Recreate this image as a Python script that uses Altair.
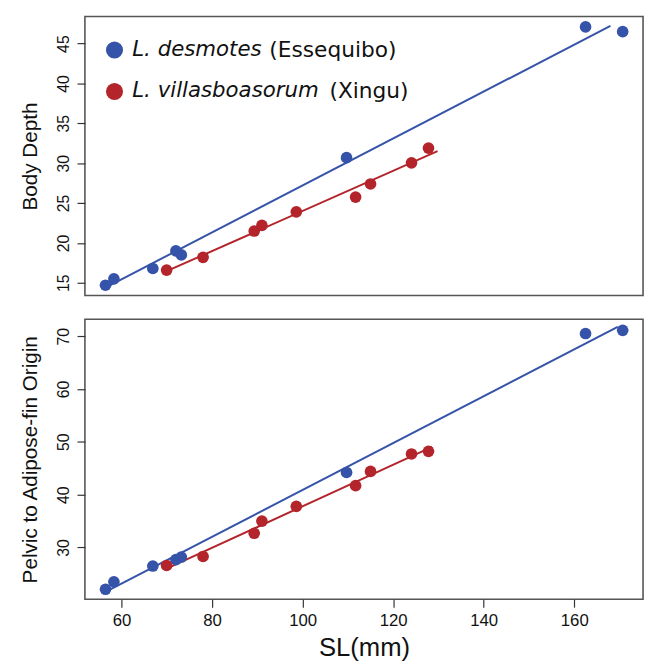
import altair as alt
import pandas as pd

# ---- data ----
species = ["L. desmotes", "L. villasboasorum"]
species_place = ["(Essequibo)", "(Xingu)"]
colors = ["#3553A8", "#B3252B"]

blue_sl = [56.45, 58.3, 66.9, 72.0, 73.2, 109.7, 162.5, 170.7]
blue_depth = [14.7, 15.5, 16.8, 19.0, 18.5, 30.7, 47.1, 46.5]
blue_pelvic = [22.1, 23.5, 26.5, 27.7, 28.2, 44.2, 70.5, 71.1]

red_sl = [69.95, 78.0, 89.3, 91.0, 98.6, 111.7, 115.0, 124.05, 127.8]
red_depth = [16.6, 18.2, 21.5, 22.2, 23.9, 25.75, 27.4, 30.05, 31.9]
red_pelvic = [26.6, 28.3, 32.7, 35.0, 37.8, 41.7, 44.4, 47.7, 48.2]

x_ticks = [60, 80, 100, 120, 140, 160]
depth_ticks = [15, 20, 25, 30, 35, 40, 45]
pelvic_ticks = [30, 40, 50, 60, 70]

# regression line extents (as drawn in the reference)
blue_extent_top = [56.45, 168.0]
red_extent_top = [69.95, 129.8]
blue_extent_bottom = [56.45, 169.6]
red_extent_bottom = [69.95, 128.6]

df = pd.concat([
    pd.DataFrame({"SL": blue_sl, "depth": blue_depth, "pelvic": blue_pelvic,
                  "species": species[0]}),
    pd.DataFrame({"SL": red_sl, "depth": red_depth, "pelvic": red_pelvic,
                  "species": species[1]}),
], ignore_index=True)

FONT = "Liberation Sans"
LEG_FONT = "DejaVu Sans"

x_scale = alt.Scale(domain=[51.9, 175.2], nice=False, zero=False)
top_scale = alt.Scale(domain=[13.4, 48.4], nice=False, zero=False)
bot_scale = alt.Scale(domain=[20.2, 73.2], nice=False, zero=False)

color_scale = alt.Scale(domain=species, range=colors)


def y_axis(values, title):
    return alt.Axis(values=values, title=title, grid=False, domain=False,
                    tickSize=8, tickColor="#333", tickWidth=1.2,
                    labelAngle=270, labelAlign="center", labelBaseline="bottom",
                    labelFontSize=16, labelFont=FONT, labelColor="#111",
                    labelPadding=6,
                    titleFont=FONT, titleFontSize=21, titleFontWeight="normal",
                    titleColor="#111", titlePadding=15)


x_axis_bottom = alt.Axis(values=x_ticks, title="SL(mm)", grid=False, domain=False,
                         tickSize=8, tickColor="#333", tickWidth=1.2,
                         labelFontSize=17, labelFont=FONT, labelColor="#111",
                         labelPadding=6, labelAngle=0,
                         titleFont=FONT, titleFontSize=26, titleFontWeight="normal",
                         titleColor="#111", titlePadding=6)


def panel(field, yscale, yaxis, xaxis, ext_blue, ext_red, height, legend=False):
    xenc = alt.X("SL:Q", scale=x_scale, axis=xaxis)
    yenc = alt.Y(f"{field}:Q", scale=yscale, axis=yaxis)
    layers = []
    for sp, col, ext in [(species[0], colors[0], ext_blue), (species[1], colors[1], ext_red)]:
        layers.append(
            alt.Chart(df)
            .transform_filter(alt.datum.species == sp)
            .transform_regression("SL", field, extent=ext)
            .mark_line(color=col, strokeWidth=2)
            .encode(x=xenc, y=yenc)
        )
    layers.append(
        alt.Chart(df).mark_circle(size=140, opacity=1).encode(
            x=xenc, y=yenc,
            color=alt.Color("species:N", scale=color_scale, legend=None))
    )
    if legend:
        rows = [(0, 34, 187), (1, 76, 248)]
        for i, ypos, xplain in rows:
            layers.append(
                alt.Chart(pd.DataFrame({"t": [species[i]]}))
                .mark_circle(size=300, opacity=1, color=colors[i])
                .encode(x=alt.value(30), y=alt.value(ypos))
            )
            layers.append(
                alt.Chart(pd.DataFrame({"t": [species[i]]}))
                .mark_text(align="left", baseline="middle", font=LEG_FONT,
                           fontSize=21.6, fontStyle="italic", color="#111")
                .encode(x=alt.value(48), y=alt.value(ypos), text="t:N")
            )
            layers.append(
                alt.Chart(pd.DataFrame({"t": [species_place[i]]}))
                .mark_text(align="left", baseline="middle", font=LEG_FONT,
                           fontSize=22, color="#111")
                .encode(x=alt.value(xplain), y=alt.value(ypos), text="t:N")
            )
    return alt.layer(*layers).properties(width=566, height=height)


top = panel("depth", top_scale, y_axis(depth_ticks, "Body Depth"), None,
            blue_extent_top, red_extent_top, 283, legend=True)
bottom = panel("pelvic", bot_scale, y_axis(pelvic_ticks, "Pelvic to Adipose-fin Origin"),
               x_axis_bottom, blue_extent_bottom, red_extent_bottom, 284)

chart = (
    alt.vconcat(top, bottom, spacing=22)
    .properties(padding={"left": 11, "top": 3, "right": 2, "bottom": 0},
                background="white")
    .configure_view(stroke="#555", strokeWidth=1.6)
)

chart.save("out.html", embed_options={"renderer": "svg", "actions": False})
